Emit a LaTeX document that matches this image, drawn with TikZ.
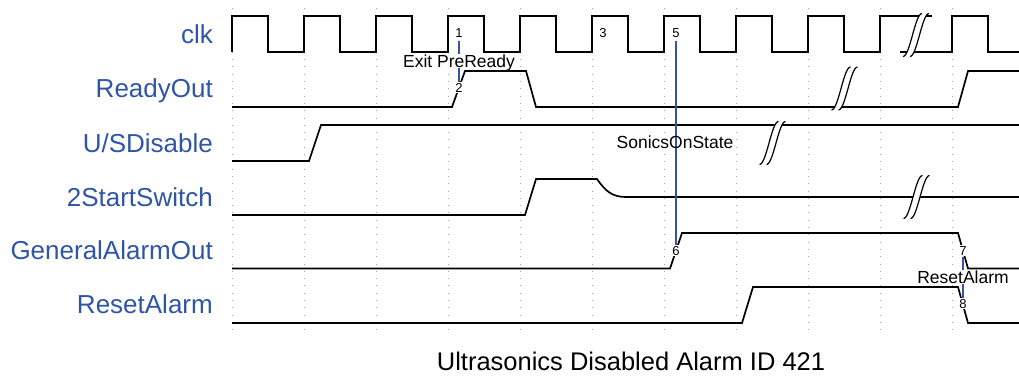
\documentclass[tikz,border=0pt]{standalone}
\usepackage{fontspec}
\setmainfont{Liberation Sans}
\definecolor{lblue}{RGB}{47,85,166}
\definecolor{mblue}{RGB}{55,82,170}
\newcommand{\sigbreak}[2]{%
  \begin{scope}[shift={(#1,#2)}]
    \fill[white] (-13,21.5) .. controls (-6,21.5) and (-1,-21.5) .. (6,-21.5) -- (13,-21.5) .. controls (6,-21.5) and (1,21.5) .. (-6,21.5) -- cycle;
    \draw[brk] (-13,21.5) .. controls (-6,21.5) and (-1,-21.5) .. (6,-21.5);
    \draw[brk] (-6,21.5) .. controls (1,21.5) and (6,-21.5) .. (13,-21.5);
  \end{scope}}
\begin{document}
\begin{tikzpicture}[x=1pt,y=-1pt,
  sig/.style={line width=1.7pt, line join=miter, black},
  gridln/.style={gray!70, line width=0.9pt, dash pattern=on 1pt off 6.3pt},
  lbl/.style={text=lblue, font=\fontsize{26}{30}\selectfont, inner sep=0pt, anchor=base east},
  num/.style={font=\fontsize{13}{15}\selectfont, inner sep=1pt, fill=white, anchor=base},
  note/.style={font=\fontsize{17.5}{20}\selectfont, inner sep=0.8pt, text depth=0pt, anchor=base},
  marker/.style={draw=mblue, line width=1.8pt},
  brk/.style={line width=1.2pt, black}]
\useasboundingbox (0,0) rectangle (1019,381);

% grid
\foreach \i in {0,...,10} \draw[gridln] ({232+72*\i},8) -- ({232+72*\i},330);

% row labels
\node[lbl] (lclk)  at (213,43)    {clk};
\node[lbl] (lrdy)  at (213,97.5)  {ReadyOut};
\node[lbl] (lusd)  at (213,152)   {U/SDisable};
\node[lbl] (lsw)   at (213,206)   {2StartSwitch};
\node[lbl] (lgen)  at (213,259.5) {GeneralAlarmOut};
\node[lbl] (lrst)  at (213,313)   {ResetAlarm};

% clk
\draw[sig] (232,52) \foreach \k in {0,...,8} { -- ({232+72*\k},16) -- ({268+72*\k},16) -- ({268+72*\k},52) -- ({304+72*\k},52) } -- (880,16) -- (932,16);
\draw[sig] (900,52) -- (952,52) -- (952,16) -- (988,16) -- (988,52) -- (1019,52);
\sigbreak{916}{35}

% ReadyOut
\draw[sig] (232,107) -- (452,107) -- (465,71) -- (526,71) -- (536,107) -- (958,107) -- (968,71) -- (1019,71);
\sigbreak{844.5}{88.5}

% U/SDisable
\draw[sig] (232,161) -- (309,161) -- (321,125) -- (1019,125);
\sigbreak{772.5}{143}

% 2StartSwitch
\draw[sig] (232,215) -- (525,215) -- (536,179) -- (597,179) .. controls (606,192) and (613,197) .. (626,197) -- (1019,197);
\sigbreak{916.5}{197}

% GeneralAlarmOut
\draw[sig] (232,268.5) -- (670,268.5) -- (682,233) -- (958,233) -- (968,268.5) -- (1019,268.5);

% ResetAlarm
\draw[sig] (232,323) -- (742,323) -- (753,287) -- (958,287) -- (968,323) -- (1019,323);

% markers
\node[num] (m1) at (459,37.5) {1};
\node[num] (m2) at (459,92) {2};
\node[num] (m3) at (603,37.5) {3};
\node[num] (m5) at (676,37.5) {5};
\node[num] (m6) at (676,255) {6};
\node[num] (m7) at (963,255) {7};
\node[num] (m8) at (963,308) {8};
\draw[marker] ([yshift=-2pt]m1.south) -- (m2.north);
\draw[marker] ([yshift=-2pt]m5.south) -- (m6.north);
\draw[marker] ([yshift=-1pt]m7.south) -- (m8.north);
\node[note, fill=white] (exitpre) at (459,67) {Exit PreReady};
\node[note] (sonics) at (675,148) {SonicsOnState};
\node[note, fill=white] (resetal) at (963,283) {ResetAlarm};

% title
\node[anchor=base, font=\fontsize{25.5}{30}\selectfont] (title) at (631,370) {Ultrasonics Disabled Alarm ID 421};
\end{tikzpicture}
\end{document}
